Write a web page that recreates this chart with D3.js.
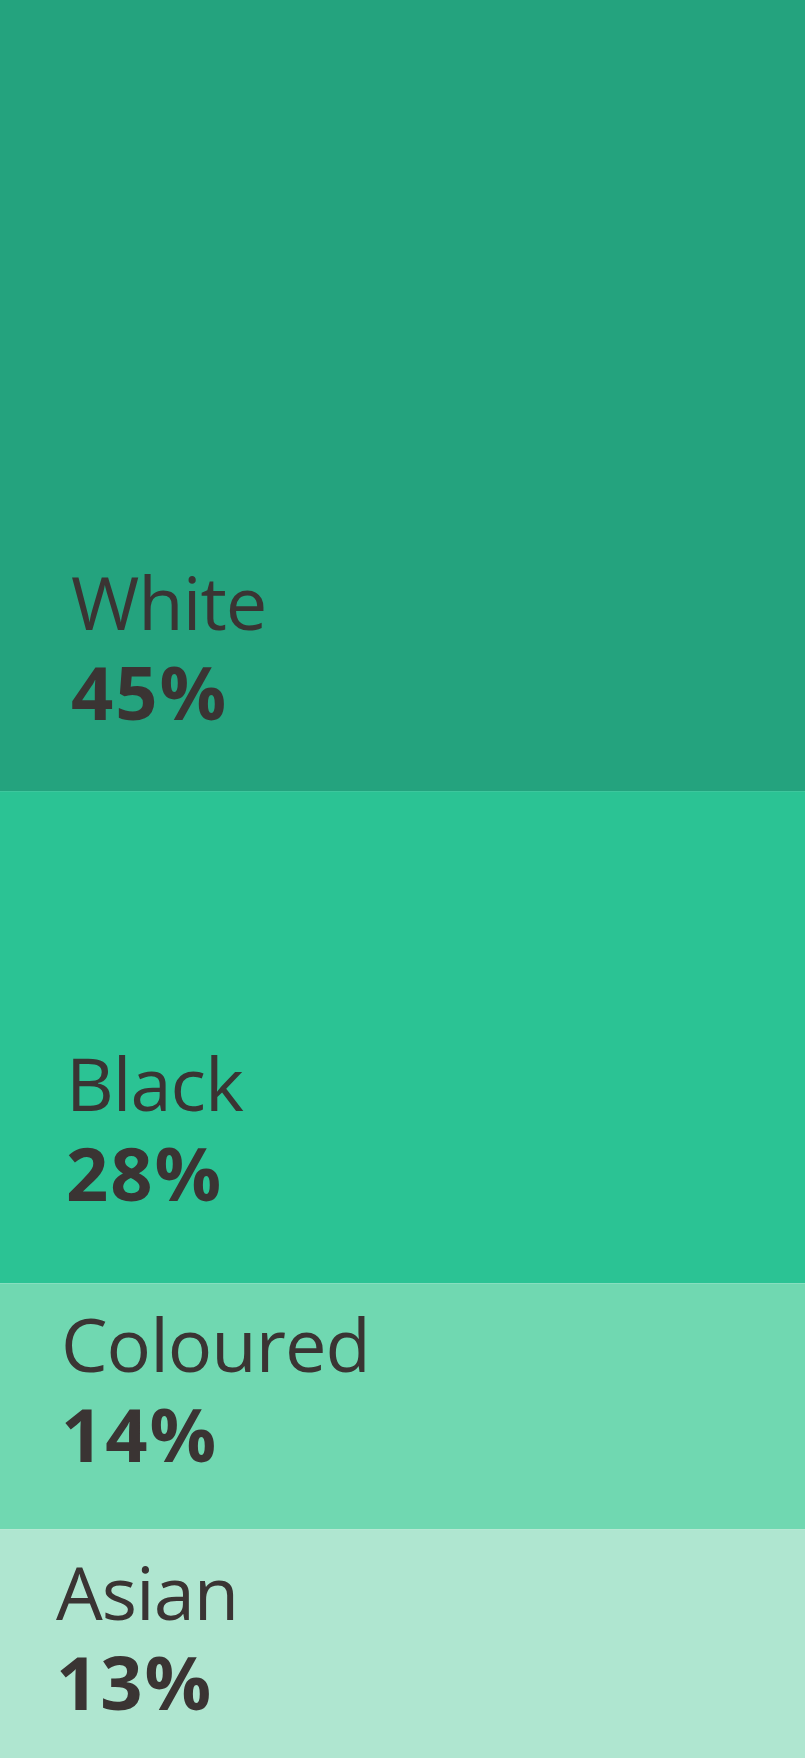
<!DOCTYPE html>
<html>
<head>
<meta charset="utf-8">
<script src="https://cdn.jsdelivr.net/npm/d3@7"></script>
<style>
  body { margin: 0; background: #fff; }
  svg { display: block; }
  .label { font-family: "Open Sans", sans-serif; fill: #3a3433; }
</style>
</head>
<body>
<script>
// population groups, share in percent
var groups = ["White", "Black", "Coloured", "Asian"],
    shares = [45, 28, 14, 13],
    colours = ["#24a37e", "#2bc394", "#70d8b1", "#afe6d0"];

var width = 805, height = 1758,
    fontSize = 74,
    // how far the text block sits above each box's bottom edge
    textBottom = [71, 82, 67, 48];

var svg = d3.select("body").append("svg")
    .attr("width", width)
    .attr("height", height);

var y = d3.scaleLinear().domain([0, d3.sum(shares)]).range([0, height]);

// cumulative stack of the shares
var acc = 0,
    rows = groups.map(function(g, i) {
        var r = { name: g, value: shares[i], y0: acc, y1: acc + shares[i], i: i };
        acc += shares[i];
        return r;
    });

var cell = svg.selectAll("g.cell").data(rows).enter()
    .append("g").attr("class", "cell");

cell.append("rect")
    .attr("x", 0)
    .attr("y", function(d) { return y(d.y0); })
    .attr("width", width)
    .attr("height", function(d) { return y(d.y1) - y(d.y0); })
    .attr("fill", function(d, i) { return colours[i]; });

cell.append("text")
    .attr("class", "label")
    .attr("x", function(d) { return 71 - 5 * d.i; })
    .attr("y", function(d) { return y(d.y1) - textBottom[d.i] - 90; })
    .style("font-size", fontSize + "px")
    .style("letter-spacing", "-1px")
    .text(function(d) { return d.name; });

cell.append("text")
    .attr("class", "label")
    .attr("x", function(d) { return 71 - 5 * d.i; })
    .attr("y", function(d) { return y(d.y1) - textBottom[d.i]; })
    .style("font-size", fontSize + "px")
    .style("font-weight", 700)
    .style("letter-spacing", "2px")
    .text(function(d) { return d.value + "%"; });
</script>
</body>
</html>
